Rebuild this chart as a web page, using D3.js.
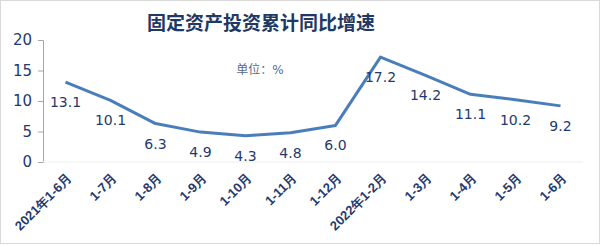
<!DOCTYPE html>
<html>
<head>
<meta charset="utf-8">
<script src="https://cdn.jsdelivr.net/npm/d3@7"></script>
<style>
  body { margin: 0; background: #fff; }
  svg { font-family: "DejaVu Sans", "Noto Sans CJK SC", sans-serif; }
</style>
</head>
<body>
<div class="viz"></div>
<script>
const categories = ["2021年1-6月", "1-7月", "1-8月", "1-9月", "1-10月", "1-11月", "1-12月",
  "2022年1-2月", "1-3月", "1-4月", "1-5月", "1-6月"];
const values = [13.1, 10.1, 6.3, 4.9, 4.3, 4.8, 6.0, 17.2, 14.2, 11.1, 10.2, 9.2];
const yTicks = [0, 5, 10, 15, 20];

const width = 600, height = 246;
const plotLeft = 43, plotRight = 583, plotTop = 40, plotBottom = 162;

const svg = d3.select(".viz").append("svg").attr("width", width).attr("height", height);

svg.append("rect")
  .attr("x", 0.5).attr("y", 0.5)
  .attr("width", width - 1).attr("height", height - 3)
  .attr("fill", "#fff").attr("stroke", "#d9d9d9");

const x = d3.scaleBand().domain(categories).range([plotLeft, plotRight]);
const y = d3.scaleLinear().domain([0, 20]).range([plotBottom, plotTop]);

// title
svg.append("text")
  .attr("x", 261).attr("y", 30)
  .attr("text-anchor", "middle")
  .attr("font-size", 19).attr("font-weight", "bold")
  .attr("fill", "#1f3864")
  .attr("font-family", "Noto Sans CJK SC")
  .text("固定资产投资累计同比增速");

svg.append("text")
  .attr("x", 260).attr("y", 74)
  .attr("text-anchor", "middle")
  .attr("font-size", 12)
  .attr("fill", "#596a85")
  .text("单位：%");

// y axis
const yAxis = svg.append("g")
  .attr("transform", `translate(${plotLeft},0)`)
  .call(d3.axisLeft(y).tickValues(yTicks).tickSize(5).tickPadding(6));
yAxis.select(".domain").attr("stroke", "#a6a6a6");
yAxis.selectAll(".tick line").attr("stroke", "#a6a6a6");
yAxis.selectAll(".tick text")
  .attr("font-size", 15).attr("fill", "#1f3a6e")
  .attr("font-family", "DejaVu Sans");

// baseline
svg.append("line")
  .attr("x1", plotLeft).attr("x2", plotRight)
  .attr("y1", y(0)).attr("y2", y(0))
  .attr("stroke", "#eeeeee");

// x labels
const xAxis = svg.append("g")
  .attr("transform", `translate(0,${plotBottom})`)
  .call(d3.axisBottom(x).tickSize(0).tickPadding(0));
xAxis.select(".domain").remove();
xAxis.selectAll(".tick text")
  .attr("font-size", 13).attr("font-weight", "bold")
  .attr("fill", "#1f3a6e")
  .attr("text-anchor", "end")
  .attr("y", 0).attr("dy", 0)
  .attr("transform", "translate(7,17) rotate(-45)");

// line
const line = d3.line()
  .x((d, i) => x(categories[i]) + x.bandwidth() / 2)
  .y(d => y(d));

svg.append("path")
  .datum(values)
  .attr("d", line)
  .attr("fill", "none")
  .attr("stroke", "#4a7ebb")
  .attr("stroke-width", 3)
  .attr("stroke-linejoin", "round");

// data labels
svg.append("g")
  .selectAll("text")
  .data(values)
  .join("text")
  .attr("x", (d, i) => x(categories[i]) + x.bandwidth() / 2)
  .attr("y", d => y(d) + 25)
  .attr("text-anchor", "middle")
  .attr("font-size", 14)
  .attr("fill", "#1f3a6e")
  .text(d => d.toFixed(1));
</script>
</body>
</html>
